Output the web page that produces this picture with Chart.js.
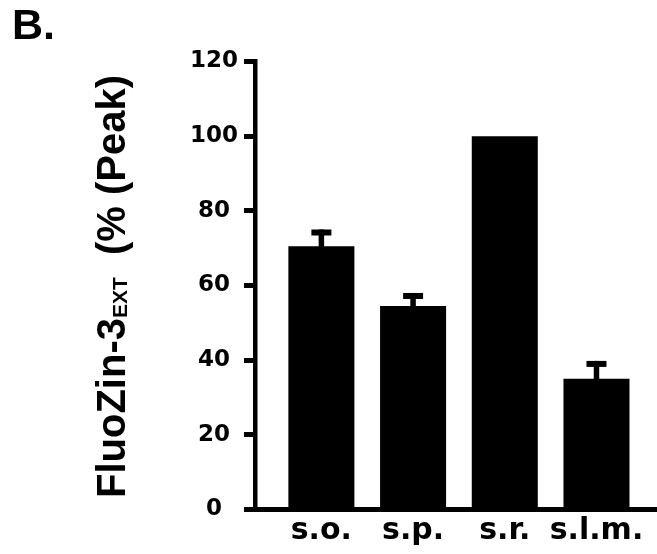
<!DOCTYPE html>
<html>
<head>
<meta charset="utf-8">
<script src="https://cdn.jsdelivr.net/npm/chart.js@4.4.1/dist/chart.umd.min.js"></script>
<style>
  html, body { margin: 0; padding: 0; background: #fff; }
  #wrap { width: 657px; height: 554px; }
</style>
</head>
<body>
<div id="wrap"><canvas id="fluozin"></canvas></div>
<script>
"use strict";

const categories = ['s.o.', 's.p.', 's.r.', 's.l.m.'];
const peakValues = [70.5, 54.5, 100, 35];
const peakErrors = [4.5, 3.5, 0, 4.8];
const yTicks = [0, 20, 40, 60, 80, 100, 120];

Chart.defaults.color = '#000';

// SEM caps on top of each bar
const errorBars = {
    id: 'errorBars',
    afterDatasetsDraw(chart) {
        const yScale = chart.scales.y;
        const meta = chart.getDatasetMeta(0);
        const c = chart.ctx;
        c.save();
        c.fillStyle = '#000';
        meta.data.forEach((bar, i) => {
            if (!peakErrors[i]) return;
            const top = yScale.getPixelForValue(peakValues[i] + peakErrors[i]);
            c.fillRect(bar.x - 2.75, top, 5.5, bar.y - top + 1);
            c.fillRect(bar.x - 10, top, 20, 6);
        });
        c.restore();
    }
};

// y axis title with subscript, drawn rotated
const yTitle = {
    id: 'yTitle',
    afterDraw(chart) {
        const c = chart.ctx;
        const big = 'bold 40px "Liberation Sans", Arial, sans-serif';
        const small = 'bold 21px "Liberation Sans", Arial, sans-serif';
        c.save();
        c.fillStyle = '#000';
        c.textBaseline = 'alphabetic';
        c.textAlign = 'left';
        c.translate(125, 498);
        c.rotate(-Math.PI / 2);
        c.font = big;
        c.fillText('FluoZin-3', 0, 0);
        let pos = c.measureText('FluoZin-3').width;
        c.font = small;
        c.fillText('EXT', pos, 2);
        pos += c.measureText('EXT').width;
        c.font = big;
        pos += c.measureText(' ').width * 2;
        c.fillText('(% (Peak)', pos, 0);
        c.restore();
    }
};

const ctx = document.getElementById('fluozin').getContext('2d');
const fluozinChart = new Chart(ctx, {
    type: 'bar',
    data: {
        datasets: [{
            data: peakValues.map((v, i) => ({x: i, y: v})),
            backgroundColor: '#000',
            borderWidth: 0,
            categoryPercentage: 1,
            barPercentage: 0.72
        }]
    },
    options: {
        responsive: true,
        maintainAspectRatio: false,
        animation: false,
        layout: {
            padding: {left: 12, top: 0, right: 0, bottom: 0}
        },
        scales: {
            x: {
                type: 'linear',
                offset: false,
                min: -0.724,
                max: 3.66,
                afterBuildTicks: (axis) => {
                    axis.ticks = categories.map((c, i) => ({value: i}));
                },
                afterFit: (axis) => { axis.height = 44.5; },
                grid: {display: false, drawTicks: false, offset: false},
                border: {display: true, color: '#000', width: 5},
                ticks: {
                    padding: 4,
                    maxRotation: 0,
                    autoSkip: false,
                    font: {family: '"DejaVu Sans"', size: 30, weight: 'bold'},
                    callback: (v) => categories[Math.round(v)] || ''
                }
            },
            y: {
                min: 0,
                max: 120,
                afterBuildTicks: (axis) => {
                    axis.ticks = yTicks.map(v => ({value: v}));
                },
                afterFit: (axis) => { axis.width = 243; },
                grid: {
                    drawOnChartArea: false,
                    drawTicks: true,
                    tickLength: 11,
                    lineWidth: 5,
                    color: '#000'
                },
                border: {display: true, color: '#000', width: 4.5},
                ticks: {
                    padding: 6,
                    crossAlign: 'center',
                    font: {family: '"DejaVu Sans"', size: 23, weight: 'bold'}
                }
            }
        },
        plugins: {
            legend: {display: false},
            tooltip: {enabled: false},
            title: {
                display: true,
                text: 'B.',
                align: 'start',
                color: '#000',
                font: {family: '"Liberation Sans"', size: 43, weight: 'bold'},
                padding: {top: 1, bottom: 8.9}
            }
        }
    },
    plugins: [errorBars, yTitle]
});
</script>
</body>
</html>
